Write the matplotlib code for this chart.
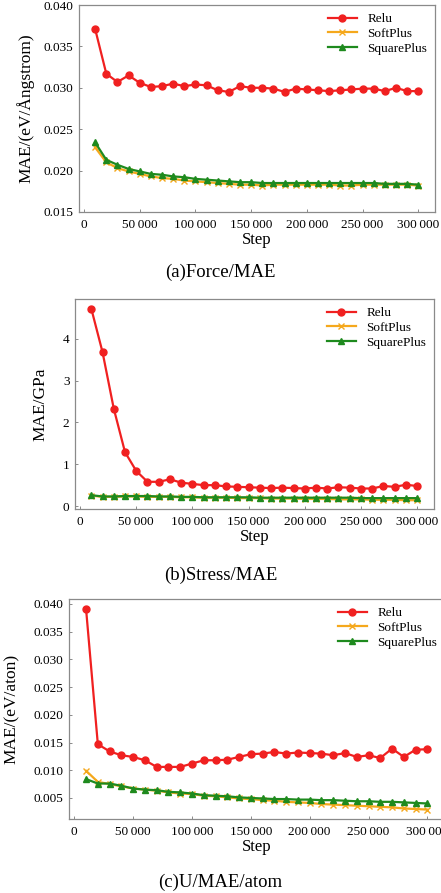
import matplotlib
matplotlib.use("Agg")
import matplotlib.pyplot as plt
from matplotlib.ticker import FuncFormatter

steps = [10000 * i for i in range(1, 31)]

force_relu = [0.0371, 0.0317, 0.0307, 0.0315, 0.0306, 0.0301, 0.0302, 0.0305, 0.0302, 0.0304,
              0.0303, 0.0297, 0.0295, 0.0302, 0.0300, 0.0300, 0.0299, 0.0295, 0.0299, 0.0298,
              0.0297, 0.0296, 0.0297, 0.0298, 0.0299, 0.0299, 0.0296, 0.0300, 0.0296, 0.0296]
force_softplus = [0.0228, 0.0210, 0.0203, 0.0199, 0.0196, 0.0193, 0.0191, 0.0190, 0.0188, 0.0187,
                  0.0186, 0.0185, 0.0184, 0.0183, 0.0183, 0.0182, 0.0183, 0.0183, 0.0183, 0.0183,
                  0.0183, 0.0183, 0.0182, 0.0182, 0.0183, 0.0183, 0.0183, 0.0183, 0.0183, 0.0182]
force_squareplus = [0.0234, 0.0213, 0.0207, 0.0202, 0.0199, 0.0196, 0.0195, 0.0193, 0.0192, 0.0190,
                    0.0189, 0.0188, 0.0187, 0.0186, 0.0186, 0.0185, 0.0185, 0.0185, 0.0185, 0.0185,
                    0.0185, 0.0185, 0.0185, 0.0185, 0.0185, 0.0185, 0.0184, 0.0184, 0.0184, 0.0183]

stress_relu = [4.72, 3.68, 2.33, 1.29, 0.84, 0.58, 0.58, 0.64, 0.56, 0.53,
               0.50, 0.50, 0.47, 0.46, 0.45, 0.44, 0.43, 0.44, 0.43, 0.42,
               0.44, 0.42, 0.45, 0.44, 0.42, 0.42, 0.48, 0.46, 0.51, 0.48]
stress_softplus = [0.25, 0.22, 0.22, 0.23, 0.23, 0.22, 0.22, 0.22, 0.21, 0.21,
                   0.20, 0.20, 0.20, 0.19, 0.19, 0.19, 0.18, 0.18, 0.18, 0.17,
                   0.17, 0.17, 0.16, 0.16, 0.16, 0.15, 0.15, 0.15, 0.14, 0.14]
stress_squareplus = [0.26, 0.23, 0.23, 0.24, 0.24, 0.24, 0.23, 0.23, 0.22, 0.22,
                     0.21, 0.21, 0.21, 0.21, 0.21, 0.20, 0.20, 0.20, 0.20, 0.20,
                     0.20, 0.20, 0.20, 0.20, 0.19, 0.19, 0.19, 0.19, 0.19, 0.19]

energy_relu = [0.0391, 0.0147, 0.0134, 0.0127, 0.0124, 0.0118, 0.0106, 0.0106, 0.0106, 0.0112,
               0.0118, 0.0118, 0.0119, 0.0124, 0.0129, 0.0130, 0.0133, 0.0130, 0.0132, 0.0131,
               0.0130, 0.0127, 0.0131, 0.0124, 0.0127, 0.0122, 0.0139, 0.0124, 0.0137, 0.0138]
energy_softplus = [0.0099, 0.0079, 0.0075, 0.0071, 0.0067, 0.0065, 0.0063, 0.0060, 0.0058, 0.0057,
                   0.0054, 0.0053, 0.0051, 0.0049, 0.0048, 0.0046, 0.0045, 0.0043, 0.0042, 0.0041,
                   0.0039, 0.0038, 0.0037, 0.0036, 0.0035, 0.0034, 0.0033, 0.0031, 0.0030, 0.0029]
energy_squareplus = [0.0084, 0.0076, 0.0076, 0.0072, 0.0067, 0.0065, 0.0064, 0.0061, 0.0060, 0.0058,
                     0.0055, 0.0054, 0.0053, 0.0051, 0.0050, 0.0049, 0.0048, 0.0048, 0.0047, 0.0047,
                     0.0046, 0.0046, 0.0045, 0.0044, 0.0044, 0.0043, 0.0043, 0.0042, 0.0041, 0.0040]

x_ticks = [0, 50000, 100000, 150000, 200000, 250000, 300000]

plt.rcParams["font.family"] = ["Liberation Serif", "DejaVu Serif"]

W, H = 441, 893
fig = plt.figure(figsize=(W / 100, H / 100), dpi=100)


def px_axes(left, top, right, bottom):
  return fig.add_axes([left / W, 1 - bottom / H, (right - left) / W, (bottom - top) / H])


def step_fmt(v, _pos):
  v = int(round(v))
  if v == 0:
    return "0"
  return f"{v:,}".replace(",", "\u2009")


def draw(ax, relu, soft, square, ylim, yticks, yfmt, ylabel, ylab_x):
  ax.plot(steps, relu, color="#f02020", marker="o", markersize=5, linewidth=1.6, label="Relu")
  ax.plot(steps, soft, color="#f5a81c", marker="x", markersize=4, markeredgewidth=1.0,
          linewidth=1.6, label="SoftPlus")
  ax.plot(steps, square, color="#1e8a1e", marker="^", markersize=4.5, linewidth=1.6,
          label="SquarePlus")
  ax.set_xlim(-4500, 315000)
  ax.set_ylim(*ylim)
  ax.set_xticks(x_ticks)
  ax.xaxis.set_major_formatter(FuncFormatter(step_fmt))
  ax.set_yticks(yticks)
  ax.yaxis.set_major_formatter(FuncFormatter(yfmt))
  ax.tick_params(direction="in", length=2, width=0.6, color="#777777", labelsize=9.5)
  ax.tick_params(axis="x", pad=5)
  ax.tick_params(axis="y", pad=4)
  for sp in ax.spines.values():
    sp.set_color("#8a8a8a")
    sp.set_linewidth(0.9)
  ax.set_xlabel("Step", fontsize=12, labelpad=1)
  ax.set_ylabel(ylabel, fontsize=12.5)
  ax.yaxis.set_label_coords(ylab_x, 0.5)
  ax.legend(loc="upper right", frameon=False, fontsize=9.5, handlelength=2.2,
            borderaxespad=0.2, labelspacing=0.2)


ax_a = px_axes(79, 5, 435, 212)
draw(ax_a, force_relu, force_softplus, force_squareplus, (0.015, 0.040),
     [0.015, 0.020, 0.025, 0.030, 0.035, 0.040], lambda v, p: f"{v:.3f}",
     "MAE/(eV/Ångstrom)", -0.124)

ax_b = px_axes(75, 299, 434, 509)
draw(ax_b, stress_relu, stress_softplus, stress_squareplus, (-0.07, 4.95),
     [0, 1, 2, 3, 4], lambda v, p: f"{v:.0f}", "MAE/GPa", -0.075)

ax_c = px_axes(69, 599, 445, 819)
draw(ax_c, energy_relu, energy_softplus, energy_squareplus, (0.0012, 0.0409),
     [0.005, 0.010, 0.015, 0.020, 0.025, 0.030, 0.035, 0.040], lambda v, p: f"{v:.3f}",
     "MAE/(eV/aton)", -0.13)

fig.text(0.5, 1 - 272 / H, "(a)Force/MAE", ha="center", va="center", fontsize=13.5)
fig.text(0.5, 1 - 575 / H, "(b)Stress/MAE", ha="center", va="center", fontsize=13.5)
fig.text(0.5, 1 - 882 / H, "(c)U/MAE/atom", ha="center", va="center", fontsize=13.5)

fig.savefig("out.png", dpi=100)
